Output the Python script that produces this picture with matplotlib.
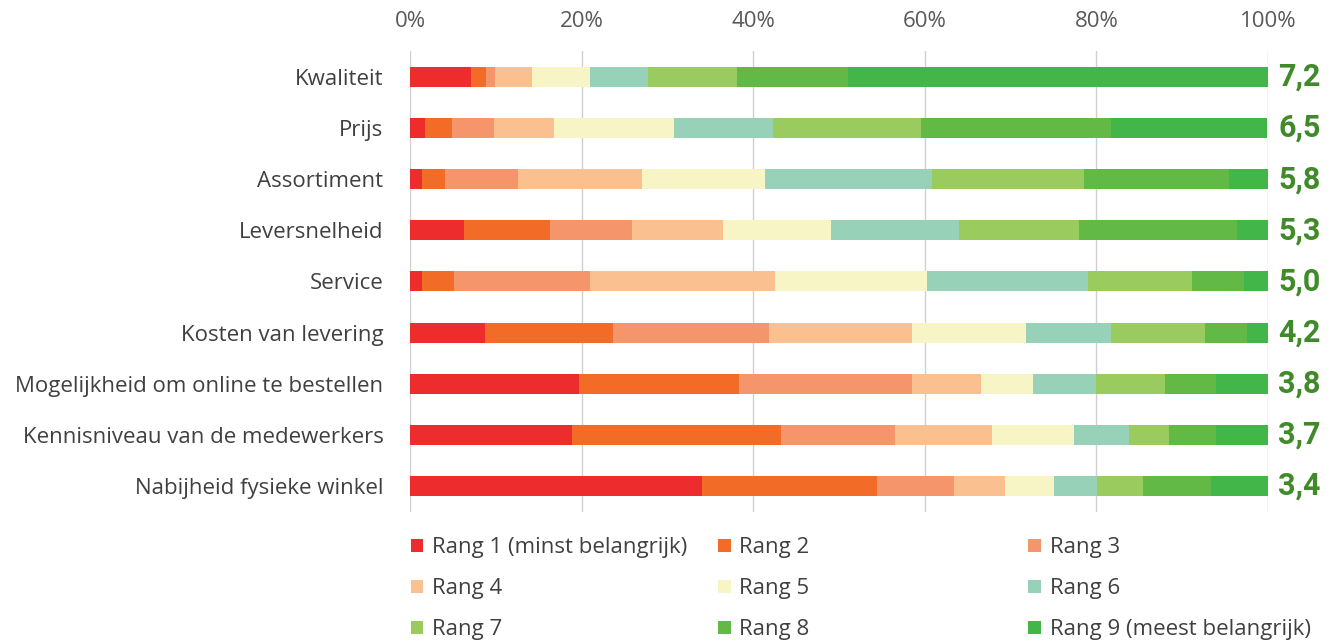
import matplotlib
matplotlib.use('Agg')
from matplotlib import pyplot as plt
from matplotlib.patches import Patch
import numpy as np

# Categories, top to bottom
categories = [
    'Kwaliteit',
    'Prijs',
    'Assortiment',
    'Leversnelheid',
    'Service',
    'Kosten van levering',
    'Mogelijkheid om online te bestellen',
    'Kennisniveau van de medewerkers',
    'Nabijheid fysieke winkel',
]
scores = ['7,2', '6,5', '5,8', '5,3', '5,0', '4,2', '3,8', '3,7', '3,4']

rank_labels = ['Rang 1 (minst belangrijk)', 'Rang 2', 'Rang 3', 'Rang 4', 'Rang 5',
               'Rang 6', 'Rang 7', 'Rang 8', 'Rang 9 (meest belangrijk)']
rank_colors = ['#ED2D2D', '#F26C28', '#F5956B', '#FAC08F', '#F7F5C6',
               '#96D1B8', '#9ACB5E', '#62B946', '#43B649']

# Share (%) of each rank per category, one list per rank
rang1 = [7.1, 1.8, 1.4, 6.3, 1.4, 8.7, 19.7, 18.9, 34.0]
rang2 = [1.8, 3.1, 2.7, 10.0, 3.7, 15.0, 18.6, 24.3, 20.4]
rang3 = [1.0, 4.9, 8.5, 9.6, 15.9, 18.2, 20.2, 13.3, 9.0]
rang4 = [4.3, 7.0, 14.5, 10.6, 21.6, 16.6, 8.1, 11.3, 5.9]
rang5 = [6.8, 14.0, 14.3, 12.6, 17.7, 13.3, 6.0, 9.6, 5.7]
rang6 = [6.7, 11.5, 19.4, 14.9, 18.7, 9.9, 7.3, 6.4, 5.1]
rang7 = [10.4, 17.3, 17.8, 14.0, 12.1, 11.0, 8.1, 4.7, 5.3]
rang8 = [13.0, 22.1, 16.9, 18.4, 6.1, 4.9, 5.9, 5.4, 7.9]
rang9 = [48.9, 18.2, 4.5, 3.6, 2.8, 2.4, 6.1, 6.1, 6.7]
ranks = [rang1, rang2, rang3, rang4, rang5, rang6, rang7, rang8, rang9]

plt.rcParams['font.family'] = ['Open Sans', 'DejaVu Sans']
txt_size = 16

fig = plt.figure(figsize=(13.31, 6.41), dpi=100)
ax = fig.add_axes([0.308, 0.202, 0.6447, 0.718])

y = np.arange(len(categories))
left = np.zeros(len(categories))
for vals, color, lab in zip(ranks, rank_colors, rank_labels):
    vals = np.array(vals)
    ax.barh(y, vals, left=left, height=0.39, color=color, label=lab, zorder=3)
    left += vals

ax.set_xlim(0, 100)
ax.set_ylim(len(categories) - 0.5, -0.5)
ax.set_yticks(y)
ax.set_yticklabels(categories, fontsize=txt_size, color='#404040')
ax.set_xticks(np.arange(0, 101, 20))
ax.set_xticklabels([f'{v}%' for v in range(0, 101, 20)], fontsize=txt_size, color='#595959')
ax.xaxis.tick_top()
ax.tick_params(axis='both', length=0)
ax.tick_params(axis='x', pad=14)
ax.tick_params(axis='y', pad=19)
ax.grid(axis='x', color='#D0D0D0', linewidth=1, zorder=0)
for s in ax.spines.values():
    s.set_visible(False)

# Average scores right of the bars
for yi, sc in zip(y, scores):
    ax.text(101.2, yi, sc, ha='left', va='center', fontsize=22, fontweight='bold',
            color='#408A2A', family=['Roboto', 'DejaVu Sans'], clip_on=False)

# Legend: three columns with fixed spacing, filled row-wise
handles = [Patch(facecolor=c, edgecolor='none') for c in rank_colors]
col_x = [0.302, 0.533, 0.766]
for ci in range(3):
    idx = [ci, ci + 3, ci + 6]
    fig.legend([handles[i] for i in idx], [rank_labels[i] for i in idx],
               loc='upper left', bbox_to_anchor=(col_x[ci], 0.176), frameon=False,
               fontsize=txt_size, handlelength=0.55, handleheight=0.55, handletextpad=0.4,
               labelspacing=0.9, labelcolor='#404040', borderaxespad=0)

fig.savefig('out.png', dpi=100)
